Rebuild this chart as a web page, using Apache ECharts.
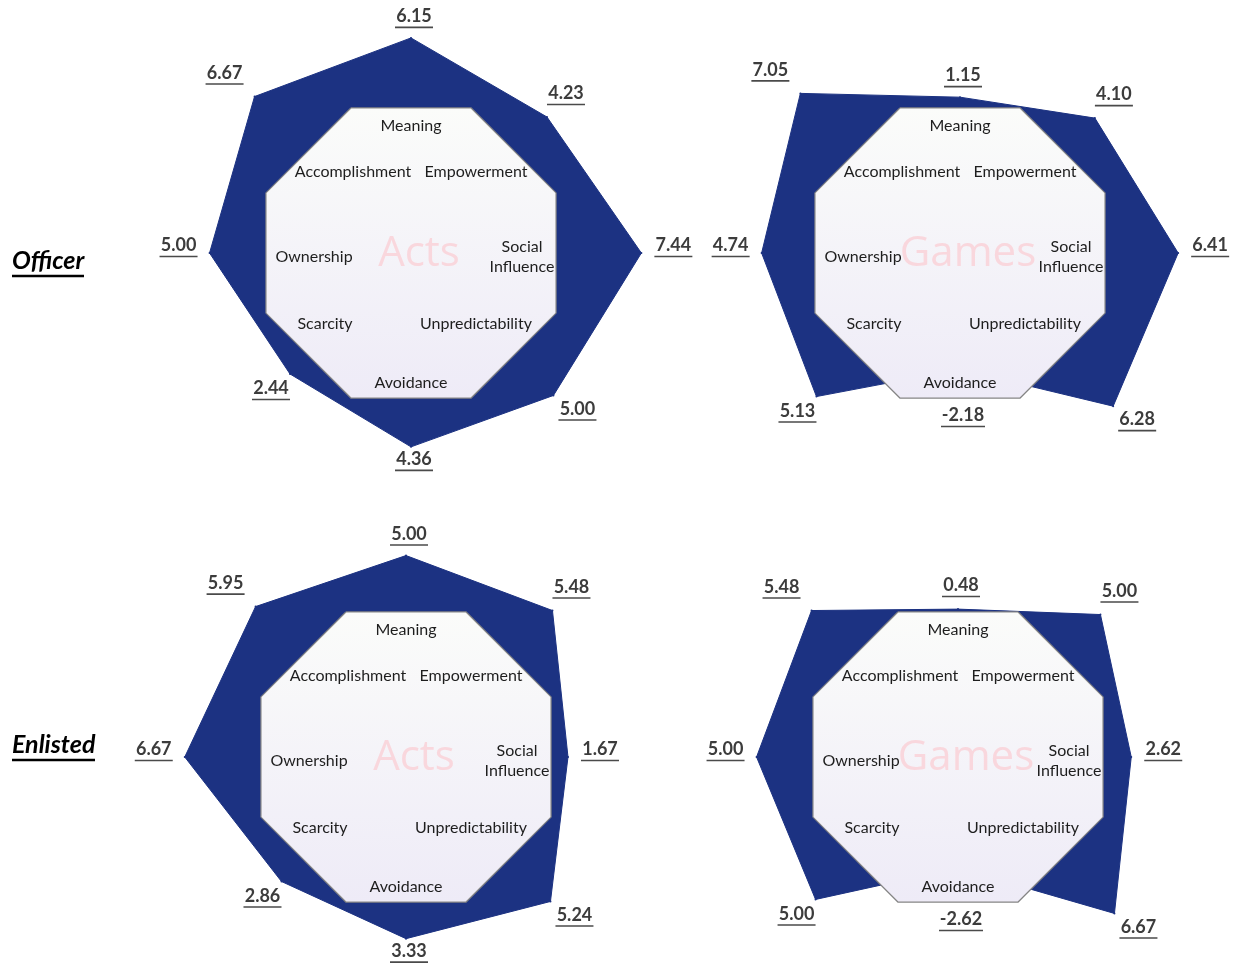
<!DOCTYPE html>
<html><head><meta charset="utf-8">
<script src="https://cdn.jsdelivr.net/npm/echarts@6/dist/echarts.min.js"></script>
<style>html,body{margin:0;padding:0;background:#fff}#chart{width:1235px;height:968px}</style>
</head><body><div id="chart"></div>
<script>
// ---- data (axis order: counter-clockwise from top) ----
const categories = ['Meaning','Accomplishment','Ownership','Scarcity','Avoidance','Unpredictability','Social Influence','Empowerment'];
const officerActs   = [6.15, 6.67, 5.00, 2.44, 4.36, 5.00, 7.44, 4.23];
const officerGames  = [1.15, 7.05, 4.74, 5.13, -2.18, 6.28, 6.41, 4.10];
const enlistedActs  = [5.00, 5.95, 6.67, 2.86, 3.33, 5.24, 1.67, 5.48];
const enlistedGames = [0.48, 5.48, 5.00, 5.00, -2.62, 6.67, 2.62, 5.00];
const panelNames = ['Acts', 'Games', 'Acts', 'Games'];
const rowLabels = ['Officer', 'Enlisted'];
const scaleMin = -12, scaleMax = 8;

// ---- layout / style ----
const panelData = [officerActs, officerGames, enlistedActs, enlistedGames];
const centers = [[411,253],[960,253],[406,757],[958,757]];
const rowLabelY = [263, 747];
const outerRadius = 237, octRadius = 157;
const nameOffsets = [[0,-127],[-58,-81],[-97,4],[-86,71],[0,130],[65,71],[111,4],[65,-81]];
// value-label offsets from each vertex, per axis direction (top, TL, L, BL, B, BR, R, TR)
const labelOffsets = [[3,-20],[-30,-22],[-31,-6],[-19,16],[3,14],[24,15],[32,-6],[19,-22]];
const minLabelRadius = 150;
const BLUE = '#1c3282';
const numFont = 'bold 18px Lato';

const ctx = document.createElement('canvas').getContext('2d');
function textW(s, font){ ctx.font = font; return Math.round(ctx.measureText(s).width); }

const allVals = [].concat(officerActs, officerGames, enlistedActs, enlistedGames);
const rich = { v: { fontFamily:'Lato', fontWeight:'bold', fontSize:18, color:'#3c3c3c', lineHeight:19 } };
allVals.forEach(v => {
  const w = textW(v.toFixed(2), numFont);
  rich['u' + w] = { width: w + 2, height: 1.6, lineHeight: 3, backgroundColor: '#4a4a4a' };
});

const radars = [], series = [], graphics = [];
panelData.forEach((arr, i) => {
  const c = centers[i];
  radars.push({
    center: c, radius: outerRadius, startAngle: 90, splitNumber: 5,
    indicator: categories.map(n => ({ name: n, min: scaleMin, max: scaleMax })),
    axisName: { show: false }, axisLine: { show: false }, splitLine: { show: false },
    splitArea: { show: false }, axisTick: { show: false }, axisLabel: { show: false }, z: 1
  });
  radars.push({
    center: c, radius: octRadius, startAngle: 112.5, splitNumber: 1,
    indicator: categories.map(() => ({ name: '', min: 0, max: 1 })),
    axisName: { show: false }, axisLine: { show: false }, axisTick: { show: false }, axisLabel: { show: false },
    splitLine: { show: true, lineStyle: { color: '#858585', width: 1.2 } },
    splitArea: { show: true, areaStyle: { color: [new echarts.graphic.LinearGradient(0,0,0,1,[{offset:0,color:'#fbfcfa'},{offset:1,color:'#eeebf7'}])] } },
    z: 3
  });
  series.push({
    type: 'radar', radarIndex: 2 * i, silent: true, z: 2,
    symbol: 'circle', symbolSize: 2,
    itemStyle: { color: BLUE },
    lineStyle: { color: BLUE, width: 1 },
    areaStyle: { color: BLUE, opacity: 1 },
    label: {
      show: true,
      formatter: p => {
        let v = Array.isArray(p.value) ? p.value[p.dimensionIndex] : p.value;
        const s = Number(v).toFixed(2);
        return '{v|' + s + '}\n{u' + textW(s, numFont) + '|}';
      },
      rich: rich
    },
    labelLayout: params => {
      const r = params.rect;
      const sx = r.x + r.width / 2, sy = r.y + r.height / 2;
      const dx = sx - c[0], dy = sy - c[1];
      const d = Math.hypot(dx, dy) || 1;
      const ux = dx / d, uy = dy / d;
      const ang = Math.atan2(-dy, dx) * 180 / Math.PI;
      const k = ((Math.round((ang - 90) / 45) % 8) + 8) % 8;
      const base = Math.max(d, minLabelRadius);
      const o = labelOffsets[k];
      return { x: c[0] + ux * base + o[0], y: c[1] + uy * base + o[1], align: 'center', verticalAlign: 'middle' };
    },
    data: [{ value: arr, name: panelNames[i] }]
  });
  // watermark
  graphics.push({ type: 'text', x: c[0] + 8, y: c[1] + 1, z: 40,
    style: { text: panelNames[i], font: '42px "Open Sans"', fill: '#f9d7dd', align: 'center', verticalAlign: 'middle' } });
  // category names inside the octagon
  categories.forEach((n, k) => {
    graphics.push({ type: 'text', x: c[0] + nameOffsets[k][0], y: c[1] + nameOffsets[k][1], z: 50,
      style: { text: n.indexOf(' ') > 0 ? n.replace(' ', '\n') : n, font: '16px Lato', fill: '#1e1e1e',
               align: 'center', verticalAlign: 'middle', lineHeight: 20 } });
  });
});

rowLabels.forEach((t, i) => {
  const f = 'italic bold 25px Lato';
  const w = textW(t, f);
  graphics.push({ type: 'text', x: 12, y: rowLabelY[i], z: 50,
    style: { text: '{t|' + t + '}\n{u|}', verticalAlign: 'middle', align: 'left',
      rich: { t: { fontFamily: 'Lato', fontStyle: 'italic', fontWeight: 'bold', fontSize: 25, fill: '#000', lineHeight: 26 },
              u: { width: w, height: 2.4, lineHeight: 4, backgroundColor: '#000' } } } });
});

const chart = echarts.init(document.getElementById('chart'), null, { renderer: 'canvas' });
chart.setOption({
  animation: false,
  backgroundColor: '#ffffff',
  radar: radars,
  series: series,
  graphic: { elements: graphics }
});
</script></body></html>
